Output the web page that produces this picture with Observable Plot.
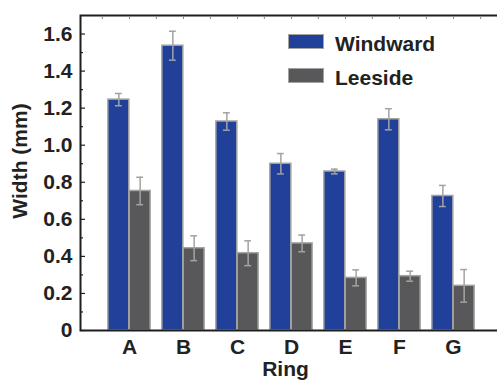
<!DOCTYPE html>
<html><head><meta charset="utf-8">
<script src="https://cdn.jsdelivr.net/npm/d3@7"></script>
<script src="https://cdn.jsdelivr.net/npm/@observablehq/plot@0.6"></script>
<style>
html,body{margin:0;padding:0;background:#fff;overflow:hidden;}
#wrap{position:relative;width:497px;height:382px;font-family:"Liberation Sans",Arial,sans-serif;}
.sw{position:absolute;left:288px;width:36px;height:15px;box-sizing:border-box;border:1.5px solid #a3a3a3;}
.lt{position:absolute;left:335px;font-weight:bold;font-size:21px;line-height:21px;color:#222;white-space:nowrap;}
</style></head><body><div id="wrap"></div>
<script>
const rings = ["A", "B", "C", "D", "E", "F", "G"];
const windward = [1.246, 1.537, 1.128, 0.900, 0.858, 1.140, 0.726];
const windwardErr = [0.033, 0.078, 0.047, 0.055, 0.013, 0.057, 0.057];
const leeside = [0.753, 0.444, 0.417, 0.470, 0.284, 0.293, 0.241];
const leesideErr = [0.074, 0.067, 0.067, 0.045, 0.043, 0.027, 0.088];
const seriesNames = ["Windward", "Leeside"];
const colors = ["#21409a", "#58585a"];
const yTicks = [0, 0.2, 0.4, 0.6, 0.8, 1.0, 1.2, 1.4, 1.6];
const yTickLabels = ["0", "0.2", "0.4", "0.6", "0.8", "1.0", "1.2", "1.4", "1.6"];
const yMinorTicks = [0.1, 0.3, 0.5, 0.7, 0.9, 1.1, 1.3, 1.5];
const xLabel = "Ring";
const yLabel = "Width (mm)";

const rows = rings.flatMap((r, i) => [
  {ring: r, series: seriesNames[0], value: windward[i], err: windwardErr[i]},
  {ring: r, series: seriesNames[1], value: leeside[i], err: leesideErr[i]}
]);
const W = rows.filter(d => d.series === seriesNames[0]);
const L = rows.filter(d => d.series === seriesNames[1]);

const half = 27.17, bw = 21.3, off = bw / 2, cap = 3.6;
const errStroke = "#a3a3a3";
const font = "'Liberation Sans', Arial, sans-serif";

const chart = Plot.plot({
  width: 497, height: 382,
  marginLeft: 80, marginRight: -3, marginTop: 15, marginBottom: 52,
  style: {fontFamily: font, color: "#222", background: "transparent", overflow: "visible"},
  x: {type: "band", domain: rings, range: [101.2, 481.5], padding: 0, axis: null},
  y: {domain: [0, 1.7], axis: null},
  marks: [
    Plot.barY(W, {x: "ring", y: "value", fill: colors[0], stroke: errStroke, strokeWidth: 1.5, insetLeft: half - bw, insetRight: half}),
    Plot.barY(L, {x: "ring", y: "value", fill: colors[1], stroke: errStroke, strokeWidth: 1.5, insetLeft: half, insetRight: half - bw}),
    Plot.ruleX(W, {x: "ring", y1: d => d.value - d.err, y2: d => d.value + d.err, dx: -off, stroke: errStroke, strokeWidth: 1.5}),
    Plot.ruleX(L, {x: "ring", y1: d => d.value - d.err, y2: d => d.value + d.err, dx: off, stroke: errStroke, strokeWidth: 1.5}),
    Plot.tickY(W, {x: "ring", y: d => d.value + d.err, dx: -off, insetLeft: half - cap, insetRight: half - cap, stroke: errStroke, strokeWidth: 1.5}),
    Plot.tickY(W, {x: "ring", y: d => d.value - d.err, dx: -off, insetLeft: half - cap, insetRight: half - cap, stroke: errStroke, strokeWidth: 1.5}),
    Plot.tickY(L, {x: "ring", y: d => d.value + d.err, dx: off, insetLeft: half - cap, insetRight: half - cap, stroke: errStroke, strokeWidth: 1.5}),
    Plot.tickY(L, {x: "ring", y: d => d.value - d.err, dx: off, insetLeft: half - cap, insetRight: half - cap, stroke: errStroke, strokeWidth: 1.5}),
    Plot.frame({stroke: "#1e1e1e", strokeWidth: 2}),
    Plot.axisY({anchor: "left", ticks: yTicks, tickSize: 0, tickPadding: 8, tickFormat: d => yTickLabels[yTicks.indexOf(d)], fontSize: 21, fontWeight: "bold", label: null}),
    Plot.axisY({anchor: "left", ticks: yTicks, tickSize: -5, tickFormat: () => "", label: null, stroke: "#1e1e1e", strokeWidth: 1.2}),
    Plot.axisY({anchor: "left", ticks: yMinorTicks, tickSize: -3, tickFormat: () => "", label: null, stroke: "#1e1e1e", strokeWidth: 1.2}),
    Plot.axisY({anchor: "right", ticks: yTicks, tickSize: -4, tickFormat: () => "", label: null, stroke: "#777"}),
    Plot.axisX({anchor: "bottom", tickSize: 0, tickPadding: 9, fontSize: 21, fontWeight: "bold", label: null}),
    Plot.axisX({anchor: "top", tickSize: -3, tickFormat: () => "", label: null, stroke: "#888"}),
    Plot.axisX({anchor: "top", tickSize: -3, tickFormat: () => "", label: null, stroke: "#888", dx: -half}),
    Plot.axisX({anchor: "top", ticks: ["G"], tickSize: -3, tickFormat: () => "", label: null, stroke: "#888", dx: half}),
    Plot.text([yLabel], {text: d => d, frameAnchor: "left", textAnchor: "middle", lineAnchor: "middle", rotate: -90, dx: -60, dy: -12, fontSize: 21, fontWeight: "bold", fill: "#222"}),
    Plot.text([xLabel], {text: d => d, frameAnchor: "bottom", textAnchor: "middle", lineAnchor: "middle", dy: 39, dx: -5, fontSize: 21, fontWeight: "bold", fill: "#222"})
  ]
});
const wrap = document.getElementById("wrap");
wrap.appendChild(chart);
const legendTops = [34, 68];
const textTops = [33.2, 66.5];
seriesNames.forEach((name, i) => {
  const sw = document.createElement("div");
  sw.className = "sw";
  sw.style.top = legendTops[i] + "px";
  sw.style.background = colors[i];
  wrap.appendChild(sw);
  const t = document.createElement("div");
  t.className = "lt";
  t.style.top = textTops[i] + "px";
  t.textContent = name;
  wrap.appendChild(t);
});
</script></body></html>
